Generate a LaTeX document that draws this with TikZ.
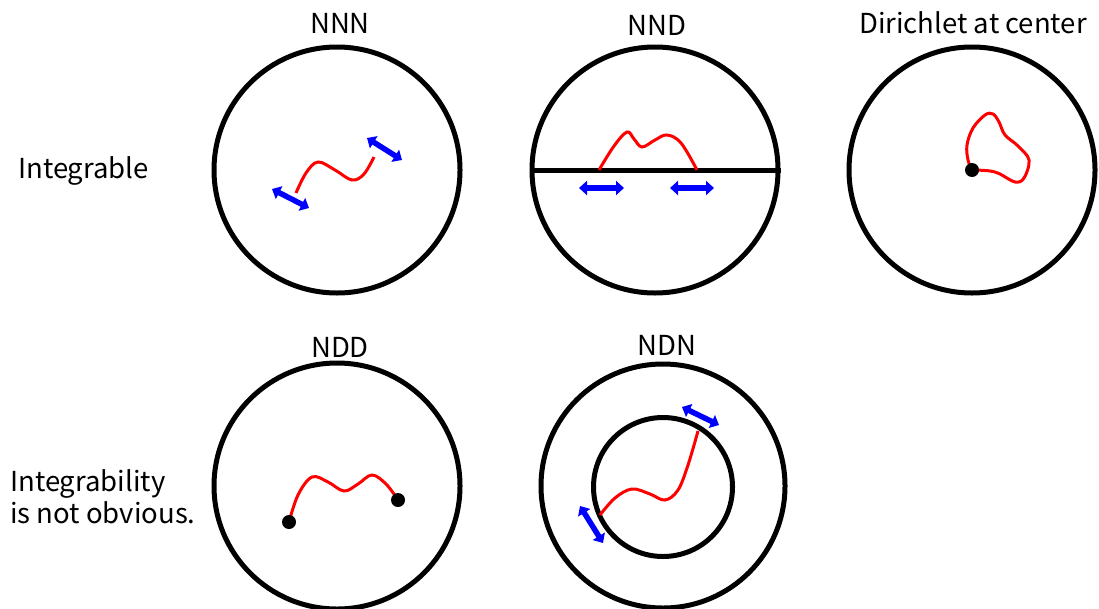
\documentclass[tikz,border=0pt]{standalone}
\usepackage{fontspec}
\setmainfont{Noto Sans CJK JP}
\usetikzlibrary{arrows.meta}
\tikzset{
  ring/.style={draw=black, line width=5pt, circle, minimum size=#1, inner sep=0pt},
  path red/.style={draw=red, line width=3pt, smooth, tension=0.6},
  bluearrow/.style={draw=blue, line width=5.5pt, {Triangle[length=8pt,width=14pt]}-{Triangle[length=8pt,width=14pt]}},
  dotnode/.style={fill=black, circle, minimum size=14pt, inner sep=0pt},
  lbl/.style={font=\fontsize{27.5}{33}\selectfont, inner sep=0pt, anchor=base},
  side/.style={font=\fontsize{27.5}{33}\selectfont, inner sep=0pt, anchor=base west}
}
\begin{document}
\begin{tikzpicture}[x=1pt,y=-1pt]
\useasboundingbox (0,0) rectangle (1099,608);
% titles
\node[lbl] (tNNN) at (340,33) {NNN};
\node[lbl] (tNND) at (657,35) {NND};
\node[lbl] (tDir) at (973,33) {Dirichlet at center};
\node[lbl] (tNDD) at (340,357) {NDD};
\node[lbl] (tNDN) at (667,355) {NDN};
\node[side] (lInt) at (18,178) {Integrable};
\node[side] (lInt2) at (10,491) {Integrability};
\node[side] (lInt3) at (10,523) {is not obvious.};
% circles
\node[ring=246pt] (cNNN) at (337,170) {};
\node[ring=246pt] (cNND) at (655,170) {};
\node[ring=246pt] (cDir) at (972,170) {};
\node[ring=246pt] (cNDD) at (337,486) {};
\node[ring=244pt] (cNDN) at (663,486) {};
\node[ring=139pt] (cNDNi) at (663,487) {};
% NNN
\draw[path red] plot coordinates {(296,193) (306,173) (318,162) (335,170) (352,180) (364,174) (374,157)};
\coordinate (a1) at (272,189); \coordinate (a2) at (309,208);
\coordinate (a3) at (367,138); \coordinate (a4) at (402,160);
\draw[bluearrow] (a1) -- (a2);
\draw[bluearrow] (a3) -- (a4);
% NND
\draw[line width=5pt] (cNND.west) -- (cNND.east);
\draw[path red] plot coordinates {(599,170) (614,146) (627,132) (634,139) (642,147) (655,140) (667,135) (681,143) (697,170)};
\coordinate (b1) at (579,188); \coordinate (b2) at (624,188);
\coordinate (b3) at (670,188); \coordinate (b4) at (714,188);
\draw[bluearrow] (b1) -- (b2);
\draw[bluearrow] (b3) -- (b4);
% Dirichlet at center
\draw[path red] plot coordinates {(972,170) (968,160) (967,145) (973,128) (985,115) (993,114) (999,122) (1005,135) (1018,146) (1029,160) (1024,178) (1015,182) (1000,174) (990,171) (975,170)};
\node[dotnode] (d0) at (972,170) {};
% NDD
\draw[path red] plot coordinates {(289,522) (298,495) (312,477) (328,482) (344,491) (358,484) (372,475) (386,484) (398,500)};
\node[dotnode] (d1) at (289,522) {};
\node[dotnode] (d2) at (398,500) {};
% NDN
\draw[path red] plot coordinates {(600,515) (615,498) (632,489) (650,494) (665,500) (678,490) (688,465) (698,431)};
\coordinate (e1) at (682,407); \coordinate (e2) at (719,425);
\coordinate (e3) at (580,506); \coordinate (e4) at (603,543);
\draw[bluearrow] (e1) -- (e2);
\draw[bluearrow] (e3) -- (e4);
\end{tikzpicture}
\end{document}
